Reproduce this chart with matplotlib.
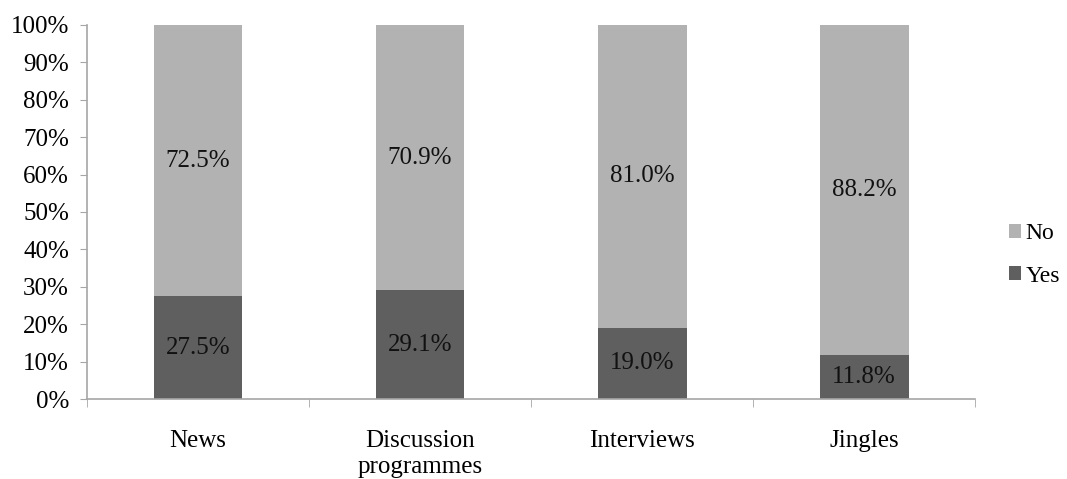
import matplotlib.pyplot as plt
import numpy as np
from matplotlib.ticker import FixedLocator, PercentFormatter

categories = ["News", "Discussion\nprogrammes", "Interviews", "Jingles"]
yes_pct = [27.5, 29.1, 19.0, 11.8]
no_pct = [72.5, 70.9, 81.0, 88.2]

YES_COLOR = "#5f5f5f"
NO_COLOR = "#b2b2b2"
AXIS_COLOR = "#a6a6a6"
FS = 18

plt.rcParams["font.family"] = ["Liberation Serif", "DejaVu Serif"]

fig = plt.figure(figsize=(10.67, 4.79), dpi=100)
ax = fig.add_axes([0.0815, 0.167, 0.8325, 0.781])

x = np.arange(len(categories))
width = 0.4
ax.bar(x, yes_pct, width, color=YES_COLOR, label="Yes")
ax.bar(x, no_pct, width, bottom=yes_pct, color=NO_COLOR, label="No")

for i in range(len(categories)):
    ax.text(x[i], yes_pct[i] / 2, f"{yes_pct[i]:.1f}%", ha="center", va="center",
            fontsize=FS, color="#111111")
    ax.text(x[i], yes_pct[i] + no_pct[i] / 2, f"{no_pct[i]:.1f}%", ha="center",
            va="center", fontsize=FS, color="#111111")

ax.set_xlim(-0.5, len(categories) - 0.5)
ax.set_ylim(0, 100)
ax.yaxis.set_major_locator(FixedLocator(np.arange(0, 101, 10)))
ax.yaxis.set_major_formatter(PercentFormatter(decimals=0))

ax.set_xticks(x)
ax.set_xticklabels(categories, fontsize=FS, linespacing=1.25)
ax.tick_params(axis="x", which="major", length=0, pad=22)
ax.set_xticks(np.arange(-0.5, len(categories)), minor=True)
ax.tick_params(axis="x", which="minor", length=6, color=AXIS_COLOR, direction="out")
ax.tick_params(axis="y", labelsize=FS, length=5, color=AXIS_COLOR, pad=8)

for side in ["top", "right"]:
    ax.spines[side].set_visible(False)
for side in ["left", "bottom"]:
    ax.spines[side].set_color(AXIS_COLOR)
    ax.spines[side].set_linewidth(1.2)

handles, labels = ax.get_legend_handles_labels()
ax.legend(handles[::-1], labels[::-1], loc="center left", bbox_to_anchor=(1.033, 0.385),
          frameon=False, fontsize=17, handlelength=0.5, handleheight=0.5,
          handletextpad=0.2, labelspacing=0.9, borderpad=0, borderaxespad=0.2)

fig.savefig("out.png", dpi=100)
